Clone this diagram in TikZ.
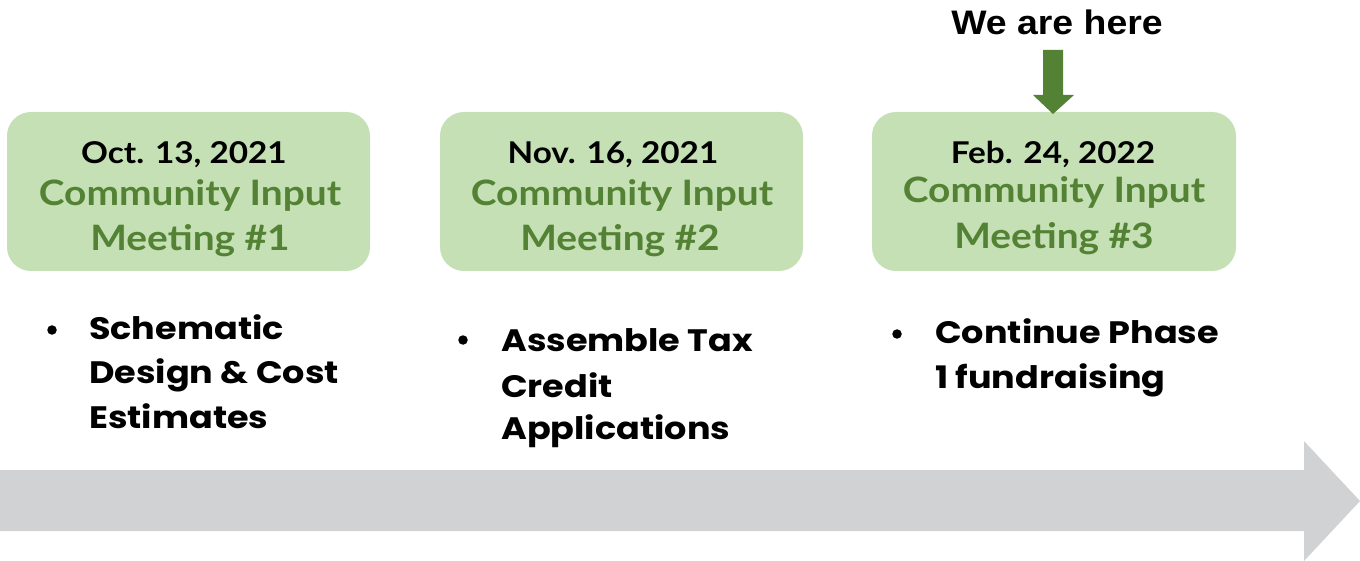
\documentclass[tikz,border=0pt]{standalone}
\usepackage{fontspec}
\setmainfont{Lato}
\newfontfamily\boxFont[FakeStretch=1.11]{Lato}
\newfontfamily\bulFont[FakeStretch=1.13]{Poppins}
\newfontfamily\hereFont[FakeStretch=1.1]{Liberation Sans}
\definecolor{boxfill}{HTML}{C5E0B4}
\definecolor{dkgreen}{HTML}{548235}
\definecolor{bargray}{HTML}{D1D2D4}
\begin{document}
\begin{tikzpicture}[x=1pt,y=-1pt,
  mbox/.style={fill=boxfill,draw=none,rounded corners=24pt},
  datetxt/.style={anchor=base,inner sep=0pt,font=\boxFont\fontsize{30}{36}\selectfont\bfseries,text=black},
  titletxt/.style={anchor=base,inner sep=0pt,font=\boxFont\fontsize{35}{42}\selectfont\bfseries,text=dkgreen},
  bultxt/.style={anchor=base west,inner sep=0pt,font=\bulFont\fontsize{31}{37}\selectfont\bfseries,text=black},
  bulmark/.style={anchor=center,circle,fill=black,inner sep=0pt,minimum size=9.5pt}]
\useasboundingbox (0,0) rectangle (1360,561);
% timeline arrow
\fill[bargray] (0,470) -- (1304,470) -- (1304,441) -- (1360,501) -- (1304,561) -- (1304,531) -- (0,531) -- cycle;
% boxes
\fill[mbox] (7,112) rectangle (370,271);
\fill[mbox] (440,112) rectangle (803,271);
\fill[mbox] (872,112) rectangle (1236,271);
% box 1
\node[datetxt] (d1) at (184,164) {Oct. 13, 2021};
\node[titletxt] (t1a) at (190,206) {Community Input};
\node[titletxt] (t1b) at (190,251) {Meeting \#1};
% box 2
\node[datetxt] (d2) at (613,164) {Nov. 16, 2021};
\node[titletxt] (t2a) at (622,206) {Community Input};
\node[titletxt] (t2b) at (620,251) {Meeting \#2};
% box 3
\node[datetxt] (d3) at (1053,164) {Feb. 24, 2022};
\node[titletxt] (t3a) at (1054,203) {Community Input};
\node[titletxt] (t3b) at (1054,249) {Meeting \#3};
% we are here
\node[anchor=base,inner sep=0pt,font=\hereFont\fontsize{34}{40}\selectfont\bfseries] (here) at (1057,35) {We are here};
\fill[dkgreen] (1043,50) -- (1063,50) -- (1063,95) -- (1074,95) -- (1053,114) -- (1033,95) -- (1043,95) -- cycle;
% bullets 1
\node[bulmark] (b1) at (52,330) {};
\node[bultxt] (s1a) at (89,339) {Schematic};
\node[bultxt] (s1b) at (89,383) {Design \& Cost};
\node[bultxt] (s1c) at (89,428) {Estimates};
% bullets 2
\node[bulmark] (b2) at (463,340) {};
\node[bultxt] (s2a) at (501,352) {Assemble Tax};
\node[bultxt] (s2b) at (501,397) {Credit};
\node[bultxt] (s2c) at (501,439) {Applications};
% bullets 3
\node[bulmark] (b3) at (897,334) {};
\node[bultxt] (s3a) at (935,343) {Continue Phase};
\node[bultxt] (s3b) at (935,388) {1 fundraising};
\end{tikzpicture}
\end{document}
